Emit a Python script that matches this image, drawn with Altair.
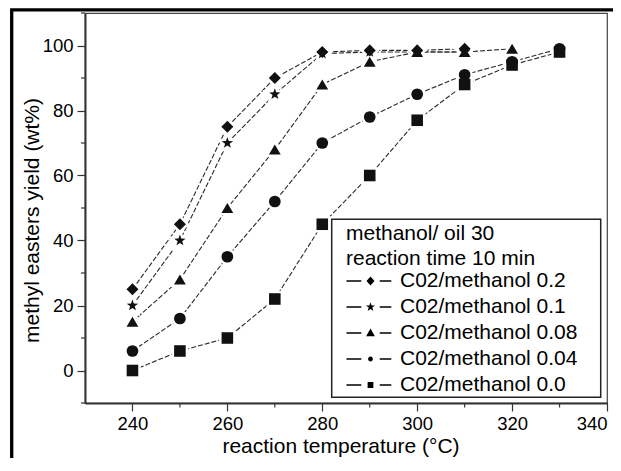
import altair as alt
import pandas as pd

# ---------------- data ----------------
temps = [240, 250, 260, 270, 280, 290, 300, 310, 320, 330]
series_names = ["C02/methanol 0.2", "C02/methanol 0.1", "C02/methanol 0.08",
                "C02/methanol 0.04", "C02/methanol 0.0"]
y_02 = [25, 45, 75, 90, 98, 98.5, 98.5, 99]
y_01 = [20, 40, 70, 85, 97.5, 98, 98, 98]
y_008 = [15, 28, 50, 68, 88, 95, 98, 98, 99]
y_004 = [6, 16, 35, 52, 70, 78, 85, 91, 95, 99]
y_00 = [0, 6, 10, 22, 45, 60, 77, 88, 94, 98]
legend_title = ["methanol/ oil 30", "reaction time 10 min"]
x_major = [240, 260, 280, 300, 320, 340]
x_minor = [250, 270, 290, 310, 330]
y_major = [0, 20, 40, 60, 80, 100]
y_minor = [-10, 10, 30, 50, 70, 90, 110]

series_values = [y_02, y_01, y_008, y_004, y_00]
rows = []
for name, vals in zip(series_names, series_values):
    for t, v in zip(temps, vals):
        rows.append({"temp": t, "yield": v, "series": name})
df = pd.DataFrame(rows)

FONT = "Liberation Sans"
INK = "#111111"

xscale = alt.Scale(domain=[230, 340], nice=False, zero=False)
yscale = alt.Scale(domain=[-10, 110], nice=False, zero=False)

STAR = ("M0,-1L0.235,-0.324L0.951,-0.309L0.38,0.124L0.588,0.809L0,0.4"
        "L-0.588,0.809L-0.38,0.124L-0.951,-0.309L-0.235,-0.324Z")
plot_shapes = ["diamond", STAR, "triangle-up", "circle", "square"]
plot_sizes = [145, 134, 95, 64, 50]

# legend symbols (marker centred at x=-1.6 units, dashes either side)
DASHES = " M-4.6,-0.08L-2.75,-0.08L-2.75,0.08L-4.6,0.08Z M-0.45,-0.08L1,-0.08L1,0.08L-0.45,0.08Z"
legend_shapes = [
    "M-1.6,-0.55L-1.1,0L-1.6,0.55L-2.1,0Z" + DASHES,
    "M-1.6,-0.6L-1.459,-0.194L-1.029,-0.185L-1.372,0.074L-1.247,0.485L-1.6,0.24"
    "L-1.953,0.485L-1.828,0.074L-2.171,-0.185L-1.741,-0.194Z" + DASHES,
    "M-1.6,-0.55L-1.05,0.42L-2.15,0.42Z" + DASHES,
    "M-1.3,0A0.3,0.3 0 1,1 -1.9,0A0.3,0.3 0 1,1 -1.3,0Z" + DASHES,
    "M-1.96,-0.36L-1.24,-0.36L-1.24,0.36L-1.96,0.36Z" + DASHES,
]

X = alt.X("temp:Q", scale=xscale,
          axis=alt.Axis(values=x_major, format="d", title="reaction temperature (°C)",
                        titleX=255.5, titleY=43, titleBaseline="middle",
                        titleAnchor="start", titleAlign="center"))
Y = alt.Y("yield:Q", scale=yscale,
          axis=alt.Axis(values=y_major, format="d", title="methyl easters yield (wt%)",
                        titleX=-53, titleY=207, titleAngle=270, titleBaseline="middle",
                        titleAlign="center", titleAnchor="start"))

shape_plot = alt.Shape("series:N", scale=alt.Scale(domain=series_names, range=plot_shapes), legend=None)
size_plot = alt.Size("series:N", scale=alt.Scale(domain=series_names, range=plot_sizes), legend=None)

border = alt.Chart(pd.DataFrame({"a": [0]})).mark_rect(
    filled=False, stroke="black", strokeWidth=3.3
).encode(x=alt.value(-73.3), x2=alt.value(700), y=alt.value(-3.2), y2=alt.value(700))

lines = alt.Chart(df).mark_line(
    color="#2a2a2a", strokeWidth=1.1, strokeDash=[5, 2]
).encode(x=X, y=Y, detail="series:N", order="temp:Q")

halo = alt.Chart(df).mark_point(
    filled=True, fill="white", stroke="white", strokeWidth=5, opacity=1
).encode(x=X, y=Y, shape=shape_plot, size=size_plot)

points = alt.Chart(df).mark_point(
    filled=True, color=INK, opacity=1
).encode(x=X, y=Y, shape=shape_plot, size=size_plot)

yminor = alt.Chart(pd.DataFrame({"yield": y_minor})).mark_rule(
    color="#333333", strokeWidth=1.2
).encode(y=Y, x=alt.value(-4), x2=alt.value(0))

xminor = alt.Chart(pd.DataFrame({"temp": x_minor})).mark_rule(
    color="#333333", strokeWidth=1.2
).encode(x=X, y=alt.value(390), y2=alt.value(394.5))

legend_box = alt.Chart(pd.DataFrame({"a": [0]})).mark_rect(
    fill="white", stroke="#222222", strokeWidth=1.5
).encode(x=alt.value(246.7), x2=alt.value(515.7), y=alt.value(206.3), y2=alt.value(384.3))

legend_layer = alt.Chart(df).mark_point(
    filled=True, color="black", opacity=0
).encode(
    x=X, y=Y,
    shape=alt.Shape(
        "series:N",
        scale=alt.Scale(domain=series_names, range=legend_shapes),
        legend=alt.Legend(
            title=legend_title, orient="none", legendX=261, legendY=209.5,
            direction="vertical", padding=0,
            titleFont=FONT, titleFontSize=21, titleFontWeight="normal",
            titleColor="black", titleLineHeight=25, titlePadding=2, titleLimit=400,
            labelFont=FONT, labelFontSize=21, labelColor="black", labelLimit=400,
            labelOffset=6.2, symbolOffset=26.8, symbolSize=256, symbolOpacity=1,
            symbolFillColor="black", symbolStrokeColor="black", symbolStrokeWidth=0.5,
            rowPadding=4,
        ),
    ),
)

chart = alt.layer(
    border, lines, halo, points, yminor, xminor, legend_box, legend_layer
).resolve_scale(
    shape="independent", size="independent"
).properties(
    width=522, height=390,
    autosize=alt.AutoSizeParams(type="none"),
    padding={"left": 77, "top": 5, "right": 6, "bottom": 55},
).configure_view(
    stroke="#444444", strokeWidth=1.2
).configure_axis(
    grid=False, domainColor="#333333", domainWidth=2, tickColor="#333333",
    tickWidth=1.2, tickSize=8, labelFont=FONT, labelFontSize=18.5, labelColor="black",
    titleFont=FONT, titleFontSize=21, titleFontWeight="normal", titleColor="black",
).configure_axisX(labelPadding=3).configure_axisY(labelPadding=4)

chart.save("out.html", embed_options={"renderer": "svg", "actions": False})
